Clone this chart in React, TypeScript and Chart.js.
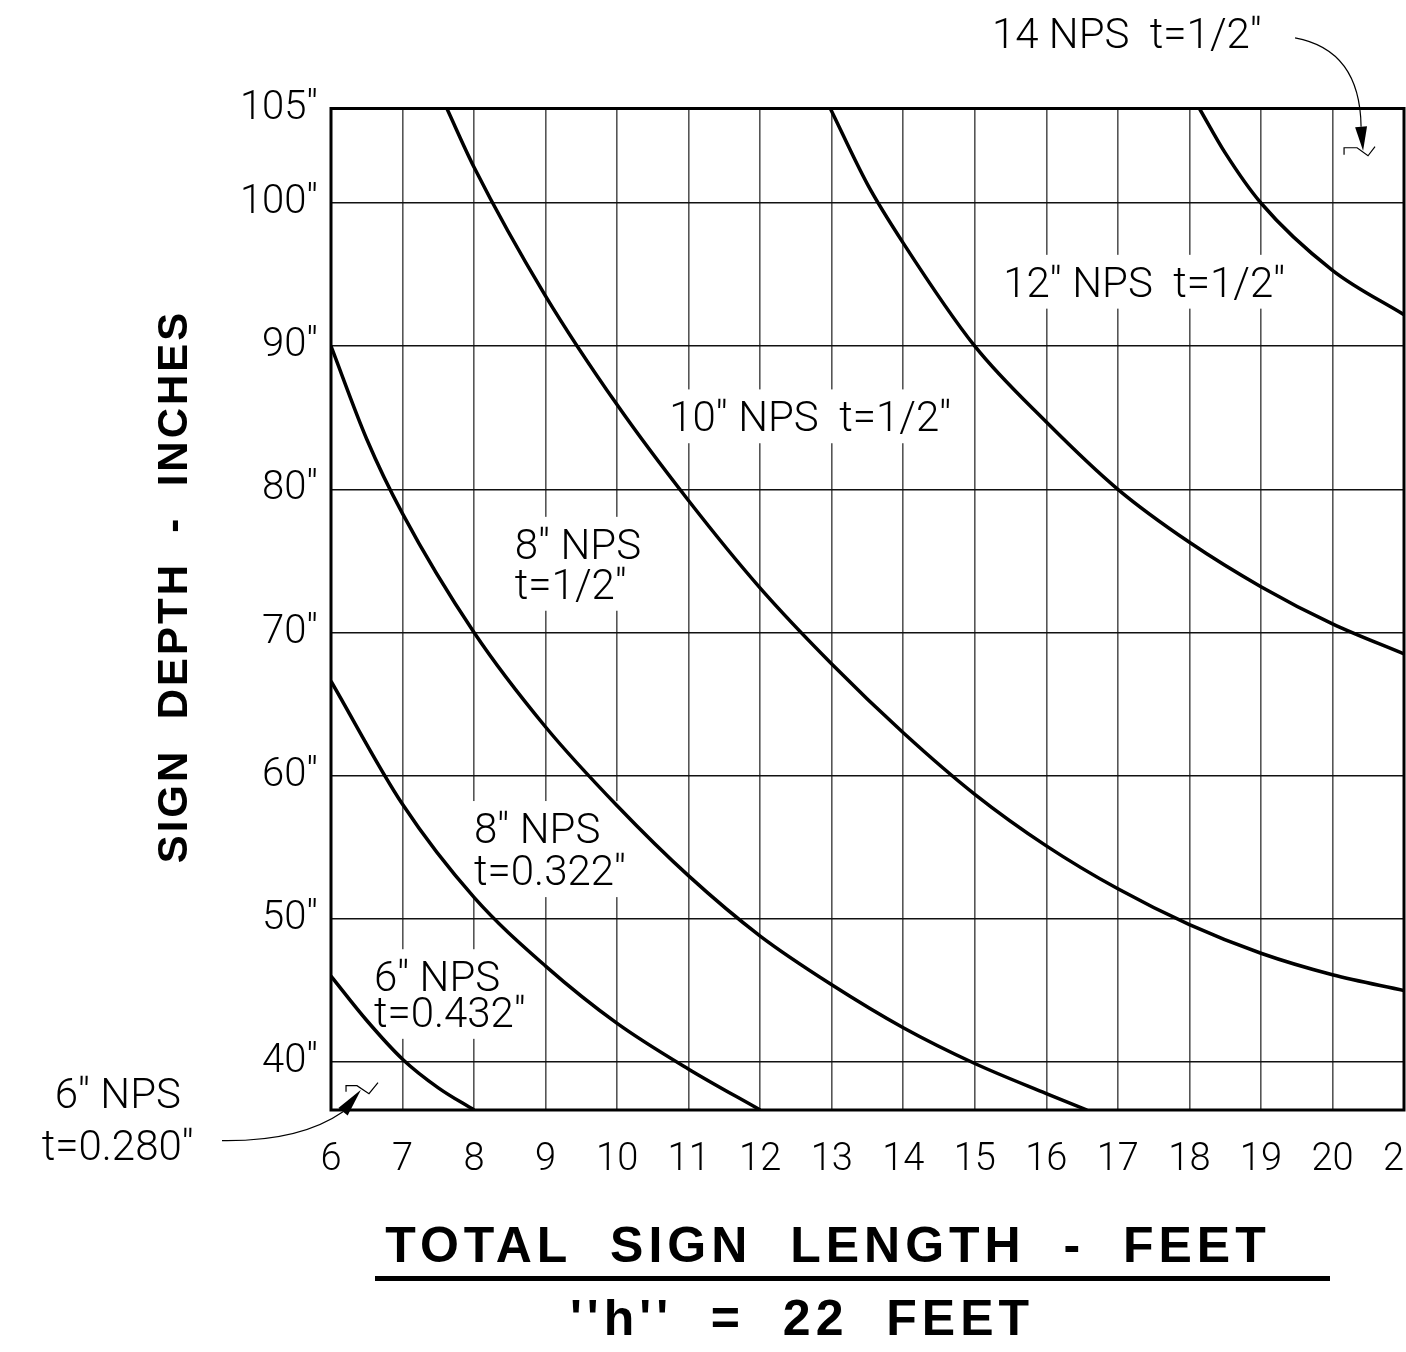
import { useEffect, useRef } from "react";
import { Chart, registerables } from "chart.js";

Chart.register(...registerables);

// axis ranges: total sign length (feet) / sign depth (inches)
const X_MIN = 6;
const X_MAX = 21;
const Y_MIN = 36.65;
const Y_MAX = 106.6;

const xTicks = [6, 7, 8, 9, 10, 11, 12, 13, 14, 15, 16, 17, 18, 19, 20, 21];
const yTicks = [40, 50, 60, 70, 80, 90, 100];
const yTopLabel = "105''";

// curves (length ft -> depth in)
const nps6t432Length = [6, 6.5, 7, 7.5, 8];
const nps6t432Depth = [46.0, 42.9, 40.2, 38.2, 36.65];

const nps8t322Length = [6, 7, 8, 9, 10, 11, 12];
const nps8t322Depth = [66.6, 58.0, 51.5, 46.7, 42.7, 39.5, 36.65];

const nps8t500Length = [6, 6.5, 7, 8, 9, 10, 11, 12, 13, 14, 15, 16, 16.57];
const nps8t500Depth = [90.0, 83.5, 78.3, 70.0, 63.4, 57.9, 53.0, 48.8, 45.4, 42.4, 39.9, 37.8, 36.65];

const nps10t500Length = [7.62, 8, 9, 10, 11, 12, 13, 14, 15, 16, 17, 18, 19, 20, 21];
const nps10t500Depth = [106.6, 102.5, 93.5, 85.9, 79.2, 73.1, 67.8, 63.0, 58.7, 55.1, 52.1, 49.6, 47.6, 46.1, 45.0];

const nps12t500Length = [12.98, 13.5, 14, 15, 16, 17, 18, 19, 20, 21];
const nps12t500Depth = [106.6, 101.3, 97.2, 90.0, 84.7, 80.0, 76.3, 73.2, 70.6, 68.5];

const nps14t500Length = [18.14, 18.5, 19, 20, 21];
const nps14t500Depth = [106.6, 103.5, 100.0, 95.3, 92.2];

// little break marks the leaders point at
const nps6t280MarkLength = [6.21, 6.21, 6.363, 6.531, 6.657];
const nps6t280MarkDepth = [37.93, 38.35, 38.35, 37.79, 38.56];
const nps14MarkLength = [20.162, 20.162, 20.344, 20.497, 20.595];
const nps14MarkDepth = [103.37, 103.86, 103.86, 103.3, 103.93];

// labels (data coordinates)
const curveLabels = [
  { lines: ["12'' NPS  t=1/2''"], x: 17.37, y: [94.5], align: "center" },
  { lines: ["10'' NPS  t=1/2''"], x: 12.7, y: [85.1], align: "center" },
  { lines: ["8'' NPS", "t=1/2''"], x: 8.57, y: [76.2, 73.4], align: "left" },
  { lines: ["8'' NPS", "t=0.322''"], x: 8.0, y: [56.35, 53.4], align: "left" },
  { lines: ["6'' NPS", "t=0.432''"], x: 6.6, y: [46.0, 43.5], align: "left" },
];
const outsideLabels = [
  { lines: ["14 NPS  t=1/2''"], x: 15.24, y: [111.84], align: "left" },
  { lines: ["6'' NPS", "t=0.280''"], x: 3.02, y: [37.86, 34.23], align: "center" },
];
const leaders = [
  { from: [4.476, 34.51], ctrl: [5.567, 34.44], to: [6.168, 36.53], tip: [6.419, 38.07] },
  { from: [19.477, 111.53], ctrl: [20.386, 110.69], to: [20.4, 105.32], tip: [20.428, 103.65] },
];

const CAD_FONT = "Roboto, 'Liberation Sans', sans-serif";
const BOLD_FONT = "'Liberation Sans', Arial, sans-serif";
const LABEL_SIZE = 42;

const points = (xs: number[], ys: number[]) => xs.map((x, i) => ({ x, y: ys[i] }));

function drawLabel(chart: any, label: any, boxed: boolean) {
  const { ctx, scales } = chart;
  const px = scales.x.getPixelForValue(label.x);
  const capH = LABEL_SIZE * 0.71;
  ctx.save();
  ctx.font = `300 ${LABEL_SIZE}px ${CAD_FONT}`;
  ctx.textAlign = label.align;
  ctx.textBaseline = "alphabetic";
  const widths = label.lines.map((t: string) => ctx.measureText(t).width);
  const w = Math.max(...widths);
  const ys = label.y.map((v: number) => scales.y.getPixelForValue(v));
  if (boxed) {
    const left = label.align === "left" ? px : px - w / 2;
    ctx.fillStyle = "#fff";
    ctx.fillRect(left - 10, ys[0] - capH / 2 - 12, w + 20, ys[ys.length - 1] - ys[0] + capH + 24);
  }
  ctx.fillStyle = "#000";
  label.lines.forEach((t: string, i: number) => ctx.fillText(t, px, ys[i] + capH / 2));
  ctx.restore();
}

const drawingPlugin = {
  id: "drawing",
  beforeDatasetsDraw(chart: any) {
    curveLabels.forEach((l) => drawLabel(chart, l, true));
  },
  afterDraw(chart: any) {
    const { ctx, chartArea: a, scales } = chart;
    const X = (v: number) => scales.x.getPixelForValue(v);
    const Y = (v: number) => scales.y.getPixelForValue(v);
    ctx.save();
    // frame
    ctx.strokeStyle = "#000";
    ctx.lineWidth = 3;
    ctx.strokeRect(a.left, a.top, a.right - a.left, a.bottom - a.top);

    outsideLabels.forEach((l) => drawLabel(chart, l, false));

    // leaders with arrow heads
    leaders.forEach((ld) => {
      ctx.lineWidth = 1.2;
      ctx.beginPath();
      ctx.moveTo(X(ld.from[0]), Y(ld.from[1]));
      ctx.quadraticCurveTo(X(ld.ctrl[0]), Y(ld.ctrl[1]), X(ld.to[0]), Y(ld.to[1]));
      ctx.stroke();
      const bx = X(ld.to[0]);
      const by = Y(ld.to[1]);
      const tx = X(ld.tip[0]);
      const ty = Y(ld.tip[1]);
      const len = Math.hypot(tx - bx, ty - by);
      const nx = -(ty - by) / len;
      const ny = (tx - bx) / len;
      ctx.fillStyle = "#000";
      ctx.beginPath();
      ctx.moveTo(tx, ty);
      ctx.lineTo(bx + nx * 6, by + ny * 6);
      ctx.lineTo(bx - nx * 6, by - ny * 6);
      ctx.closePath();
      ctx.fill();
    });

    // axis titles
    ctx.fillStyle = "#000";
    ctx.textAlign = "center";
    ctx.textBaseline = "alphabetic";
    ctx.font = `bold 50px ${BOLD_FONT}`;
    ctx.letterSpacing = "5px";
    ctx.fillText("TOTAL  SIGN  LENGTH  -  FEET", a.left + 497, a.bottom + 152);
    ctx.fillRect(a.left + 44, a.bottom + 166, 955, 5);
    ctx.fillText("''h''  =  22  FEET", a.left + 471, a.bottom + 225);

    ctx.translate(a.left - 156, a.top + 478);
    ctx.rotate(-Math.PI / 2);
    ctx.font = `bold 42px ${BOLD_FONT}`;
    ctx.letterSpacing = "3px";
    ctx.textBaseline = "middle";
    ctx.fillText("SIGN  DEPTH  -  INCHES", 0, 0);
    ctx.restore();
  },
};

const curve = (data: { x: number; y: number }[], width = 3.5) => ({
  data,
  borderColor: "#000",
  borderWidth: width,
  pointRadius: 0,
  fill: false,
  cubicInterpolationMode: "monotone" as const,
});

export default function App() {
  const canvasRef = useRef<HTMLCanvasElement>(null);

  useEffect(() => {
    if (!canvasRef.current) return;
    const chart = new Chart(canvasRef.current, {
      type: "line",
      data: {
        datasets: [
          curve(points(nps6t432Length, nps6t432Depth)),
          curve(points(nps8t322Length, nps8t322Depth)),
          curve(points(nps8t500Length, nps8t500Depth)),
          curve(points(nps10t500Length, nps10t500Depth)),
          curve(points(nps12t500Length, nps12t500Depth)),
          curve(points(nps14t500Length, nps14t500Depth)),
          { ...curve(points(nps6t280MarkLength, nps6t280MarkDepth), 1.2), cubicInterpolationMode: "default" as const, tension: 0 },
          { ...curve(points(nps14MarkLength, nps14MarkDepth), 1.2), cubicInterpolationMode: "default" as const, tension: 0 },
        ],
      },
      options: {
        animation: false,
        responsive: true,
        maintainAspectRatio: false,
        layout: { padding: { left: 0, right: 2, top: 108.5, bottom: 0 } },
        plugins: {
          legend: { display: false },
          tooltip: { enabled: false },
        },
        scales: {
          x: {
            type: "linear",
            min: X_MIN,
            max: X_MAX,
            afterBuildTicks: (s: any) => {
              s.ticks = xTicks.map((value) => ({ value }));
            },
            afterFit: (s: any) => {
              s.height = 242;
              s.paddingLeft = 0;
              s.paddingRight = 0;
            },
            border: { display: false },
            grid: { color: "#555", lineWidth: 1.6, drawTicks: false },
            ticks: {
              padding: 28,
              color: "#000",
              autoSkip: false,
              maxRotation: 0,
              font: { family: CAD_FONT, size: 38, weight: 300 },
              callback: (v: any) => String(v),
            },
          },
          y: {
            type: "linear",
            min: Y_MIN,
            max: Y_MAX,
            afterBuildTicks: (s: any) => {
              s.ticks = [...yTicks, Y_MAX].map((value) => ({ value }));
            },
            afterFit: (s: any) => {
              s.width = 331;
              s.paddingTop = 0;
              s.paddingBottom = 0;
            },
            border: { display: false },
            grid: { color: "#111", lineWidth: 1.6, drawTicks: false },
            ticks: {
              padding: 13,
              color: "#000",
              autoSkip: false,
              font: { family: CAD_FONT, size: 40, weight: 300 },
              callback: (v: any) => (v === Y_MAX ? yTopLabel : `${v}''`),
            },
          },
        },
      },
      plugins: [drawingPlugin],
    });
    return () => chart.destroy();
  }, []);

  return (
    <div
      style={{
        position: "absolute",
        left: 0,
        top: 0,
        width: 1406,
        height: 1352,
        background: "#fff",
      }}
    >
      <canvas ref={canvasRef} />
    </div>
  );
}
